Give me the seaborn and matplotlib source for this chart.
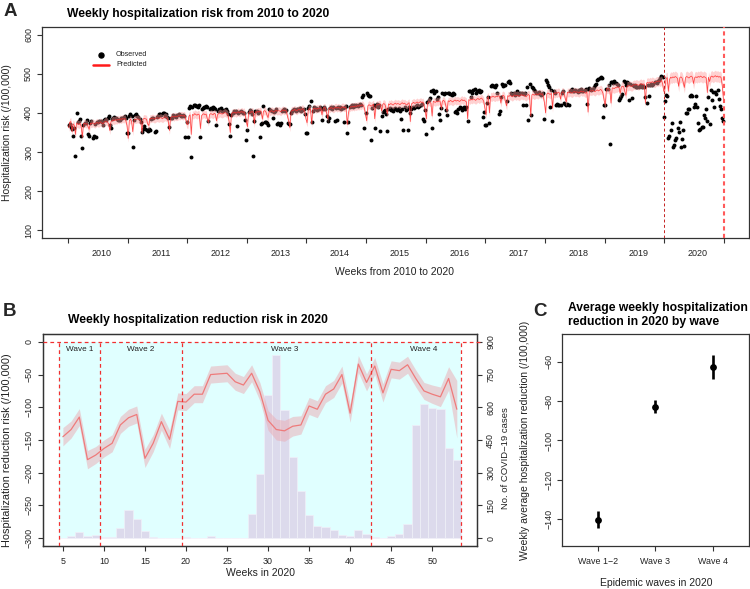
import numpy as np
import pandas as pd
import matplotlib
matplotlib.use("Agg")
import matplotlib.pyplot as plt
from matplotlib.lines import Line2D
from matplotlib.patches import Rectangle
import seaborn as sns

# ---------------- Panel A data (weekly, 52 weeks per year) ----------------
years = [2010, 2011, 2012, 2013, 2014, 2015, 2016, 2017, 2018, 2019, 2020]

obs_2010 = [369, 372, 365, 360, 342, 361, 290, 399, 378, 380,
            385, 342, 311, 370, 375, 373, 381, 345, 342, 375,
            380, 337, 340, 372, 338, 378, 376, 380, 379, 377,
            370, 382, 385, 383, 388, 391, 368, 362, 384, 387,
            390, 386, 384, 382, 383, 381, 386, 388, 390, 392, 388, 350]
pred_2010 = [362, 376, 378, 352, 372, 368, 345, 374, 372, 370,
             373, 366, 338, 372, 374, 371, 373, 365, 358, 374,
             372, 375, 373, 371, 374, 376, 373, 375, 377, 374,
             372, 376, 378, 379, 376, 372, 355, 378, 380, 382,
             380, 383, 381, 384, 382, 385, 383, 386, 384, 386, 380, 368]
obs_2011 = [350, 393, 396, 392, 313, 381, 395, 398, 393, 390,
            385, 378, 352, 360, 366, 358, 356, 353, 360, 357,
            384, 388, 386, 352, 355, 390, 392, 398, 397, 395,
            399, 400, 393, 396, 389, 386, 364, 386, 388, 395,
            393, 392, 390, 395, 397, 394, 391, 393, 395, 392, 338, 378]
pred_2011 = [335, 380, 384, 378, 352, 382, 384, 383, 385, 384,
             382, 380, 350, 384, 386, 385, 384, 372, 368, 386,
             385, 387, 386, 384, 386, 388, 387, 386, 388, 387,
             385, 388, 390, 389, 387, 378, 355, 388, 390, 391,
             389, 392, 390, 391, 393, 392, 394, 393, 392, 394, 388, 372]
obs_2012 = [338, 412, 418, 287, 416, 420, 419, 417, 418, 416,
            420, 339, 410, 412, 416, 414, 418, 415, 380, 410,
            413, 411, 415, 412, 409, 368, 405, 410, 408, 412,
            406, 404, 408, 410, 405, 398, 372, 340, 395, 399,
            405, 402, 404, 366, 400, 403, 406, 402, 399, 401, 382, 330]
pred_2012 = [370, 392, 395, 345, 396, 394, 398, 396, 394, 397,
             395, 360, 393, 396, 398, 395, 397, 385, 376, 396,
             398, 397, 395, 399, 397, 380, 396, 398, 400, 398,
             397, 399, 401, 400, 398, 395, 378, 350, 397, 401,
             400, 402, 399, 401, 403, 400, 402, 404, 401, 403, 396, 378]
obs_2013 = [357, 403, 408, 405, 398, 289, 380, 406, 404, 399,
            402, 338, 372, 375, 417, 378, 376, 373, 368, 410,
            408, 405, 386, 403, 406, 409, 372, 375, 370, 373,
            405, 407, 410, 406, 408, 374, 372, 371, 399, 404,
            408, 410, 406, 411, 409, 407, 412, 405, 408, 410, 396, 348]
pred_2013 = [365, 400, 403, 401, 404, 402, 372, 403, 401, 404,
             402, 405, 403, 384, 404, 406, 403, 395, 388, 405,
             403, 406, 404, 402, 405, 407, 404, 406, 405, 403,
             406, 408, 405, 407, 404, 390, 380, 362, 404, 407,
             406, 409, 407, 405, 408, 410, 407, 409, 411, 408, 402, 385]
obs_2014 = [349, 412, 418, 430, 378, 405, 414, 410, 413, 408,
            411, 415, 412, 383, 409, 414, 410, 391, 380, 387,
            412, 415, 411, 414, 380, 413, 382, 416, 412, 415,
            410, 413, 378, 415, 417, 350, 378, 416, 418, 420,
            415, 419, 417, 421, 418, 420, 423, 420, 440, 446, 362, 400]
pred_2014 = [375, 408, 411, 409, 372, 410, 412, 411, 409, 412,
             410, 413, 411, 395, 412, 414, 412, 400, 385, 413,
             411, 414, 412, 410, 413, 415, 412, 414, 413, 411,
             414, 416, 413, 415, 412, 370, 398, 413, 416, 415,
             417, 415, 418, 416, 419, 417, 420, 418, 421, 419, 412, 395]
obs_2015 = [451, 446, 443, 442, 330, 412, 420, 362, 418, 422,
            415, 420, 354, 391, 402, 405, 408, 398, 353, 410,
            412, 408, 411, 405, 409, 413, 408, 410, 412, 406,
            385, 410, 357, 414, 408, 411, 356, 416, 399, 410,
            414, 412, 416, 418, 420, 415, 418, 420, 422, 385, 380, 408]
pred_2015 = [380, 418, 421, 419, 417, 420, 422, 385, 419, 421,
             420, 423, 421, 405, 422, 424, 421, 410, 398, 423,
             421, 424, 422, 420, 423, 425, 422, 424, 423, 421,
             424, 426, 423, 425, 422, 420, 424, 426, 378, 423,
             425, 427, 424, 426, 428, 425, 427, 429, 426, 428, 420, 405]
obs_2016 = [345, 428, 432, 438, 455, 362, 458, 452, 455, 436,
            440, 396, 382, 413, 451, 448, 452, 408, 395, 450,
            452, 448, 446, 452, 448, 402, 405, 400, 410, 414,
            412, 408, 413, 416, 411, 415, 380, 455, 456, 440,
            452, 458, 460, 452, 456, 455, 458, 453, 455, 390, 403, 370]
pred_2016 = [385, 426, 429, 427, 425, 392, 430, 428, 427, 430,
             428, 431, 429, 412, 430, 432, 429, 418, 405, 431,
             429, 432, 430, 428, 431, 433, 430, 432, 431, 429,
             432, 434, 431, 433, 430, 428, 385, 434, 432, 435,
             433, 436, 434, 432, 435, 437, 434, 436, 438, 435, 430, 412]
obs_2017 = [370, 426, 440, 374, 468, 470, 468, 469, 466, 470,
            452, 396, 404, 440, 473, 468, 470, 472, 430, 478,
            481, 476, 450, 448, 452, 446, 450, 455, 448, 447,
            452, 450, 419, 448, 451, 420, 465, 382, 473, 395,
            467, 463, 458, 455, 452, 450, 454, 449, 446, 448, 450, 385]
pred_2017 = [395, 438, 441, 400, 442, 440, 443, 441, 440, 443,
             441, 444, 442, 425, 443, 445, 442, 428, 418, 444,
             442, 445, 443, 441, 444, 446, 443, 445, 444, 442,
             445, 447, 444, 446, 443, 441, 445, 447, 444, 392,
             446, 448, 445, 447, 449, 446, 448, 450, 447, 449, 442, 425]
obs_2018 = [484, 478, 470, 465, 415, 458, 379, 455, 452, 421,
            423, 420, 421, 419, 452, 455, 425, 422, 420, 424,
            421, 455, 458, 460, 457, 455, 459, 456, 454, 458,
            456, 460, 457, 455, 458, 461, 424, 462, 464, 460,
            458, 462, 465, 470, 475, 484, 487, 490, 491, 488, 390, 421]
pred_2018 = [400, 448, 451, 449, 447, 450, 412, 451, 449, 452,
             450, 453, 451, 435, 452, 454, 451, 438, 428, 453,
             451, 454, 452, 450, 453, 455, 452, 454, 453, 451,
             454, 456, 453, 455, 452, 450, 454, 402, 455, 457,
             455, 458, 456, 454, 457, 459, 456, 458, 460, 457, 450, 432]
obs_2019 = [421, 460, 462, 470, 321, 480, 478, 477, 481, 476,
            474, 472, 434, 438, 443, 449, 481, 480, 470, 478,
            476, 434, 475, 438, 472, 468, 470, 467, 466, 465,
            468, 470, 466, 468, 465, 440, 426, 470, 443, 472,
            474, 470, 475, 478, 480, 477, 482, 485, 489, 493, 492, 390]
pred_2019 = [420, 460, 463, 461, 459, 425, 464, 463, 462, 465,
             464, 467, 465, 450, 466, 468, 467, 455, 445, 469,
             468, 470, 469, 467, 470, 472, 471, 473, 472, 470,
             473, 475, 472, 474, 473, 425, 476, 478, 476, 479,
             477, 480, 478, 476, 479, 481, 480, 482, 479, 483, 475, 455]
obs_2020 = [430, 445, 442, 335, 340, 357, 374, 312, 317, 330,
            336, 361, 352, 378, 314, 334, 356, 316, 399, 401,
            411, 409, 442, 445, 443, 414, 424, 444, 414, 373,
            357, 358, 363, 363, 395, 388, 409, 380, 441, 371,
            458, 432, 454, 415, 453, 448, 459, 435, 418, 410, 386, 379]
pred_2020 = [462, 488, 490, 455, 485, 491, 489, 492, 490, 493,
             491, 488, 468, 490, 492, 489, 478, 465, 490, 493,
             491, 489, 492, 494, 491, 475, 490, 492, 490, 493,
             491, 494, 492, 490, 493, 491, 489, 452, 491, 480,
             492, 494, 491, 493, 495, 492, 494, 491, 493, 490, 470, 435]
band_halfwidth = [10, 10, 10, 10, 10, 10, 10, 11, 11, 12, 14]   # per year

observed = [obs_2010, obs_2011, obs_2012, obs_2013, obs_2014, obs_2015,
            obs_2016, obs_2017, obs_2018, obs_2019, obs_2020]
predicted = [pred_2010, pred_2011, pred_2012, pred_2013, pred_2014, pred_2015,
             pred_2016, pred_2017, pred_2018, pred_2019, pred_2020]

# ---------------- Panel B data (weeks 5..53 of 2020) ----------------
weeks_2020 = list(range(5, 54))
reduction = [-145, -134, -115, -180, -173, -163, -155, -127, -116, -111,
             -178, -155, -122, -149, -91, -92, -80, -80, -50, -49,
             -48, -61, -66, -48, -76, -120, -134, -136, -129, -127,
             -98, -103, -80, -72, -50, -109, -34, -62, -37, -78,
             -42, -44, -35, -56, -75, -80, -84, -56, -103]
reduction_hw = [14, 13, 13, 14, 13, 13, 13, 13, 13, 13,
                14, 13, 13, 14, 13, 13, 13, 13, 13, 13,
                13, 13, 13, 13, 14, 15, 16, 16, 15, 14,
                13, 13, 13, 13, 13, 14, 13, 13, 13, 14,
                13, 13, 13, 13, 13, 14, 15, 18, 44]
covid_cases = [2, 8, 28, 11, 15, 6, 6, 48, 129, 86,
               35, 3, 1, 0, 0, 3, 0, 0, 8, 2,
               0, 0, 0, 112, 296, 656, 839, 587, 371, 215,
               107, 54, 49, 38, 15, 8, 38, 17, 6, 2,
               8, 18, 66, 518, 615, 598, 593, 415, 357]
wave_names = ["Wave 1", "Wave 2", "Wave 3", "Wave 4"]
wave_bounds = [4.5, 9.5, 19.5, 42.5, 53.5]
wave_label_week = [7, 14.5, 32, 49]

# ---------------- Panel C data ----------------
c_labels = ["Wave 1\u22122", "Wave 3", "Wave 4"]
c_est = [-140.5, -83.0, -62.5]
c_lo = [-144.6, -86.2, -68.8]
c_hi = [-135.8, -79.5, -56.6]

for o, p in zip(observed, predicted):
    assert len(o) == 52 and len(p) == 52
assert len(reduction) == len(weeks_2020) == len(covid_cases) == len(reduction_hw)

# ---------------- Build tables ----------------
rows = []
for y, o, p, hw in zip(years, observed, predicted, band_halfwidth):
    for w in range(52):
        rows.append({"x": y + (w + 0.5) / 52, "obs": o[w], "pred": p[w],
                     "lo": p[w] - hw, "hi": p[w] + hw})
dfA = pd.DataFrame(rows)
dfB = pd.DataFrame({"week": weeks_2020, "red": reduction,
                    "lo": np.array(reduction) - np.array(reduction_hw),
                    "hi": np.array(reduction) + np.array(reduction_hw),
                    "cases": covid_cases})
dfC = pd.DataFrame({"pos": [1, 2, 3], "est": c_est, "lo": c_lo, "hi": c_hi})

# ---------------- Style ----------------
sns.set_style("ticks")
plt.rcParams["font.family"] = ["Liberation Sans", "DejaVu Sans"]
plt.rcParams["axes.unicode_minus"] = True

W, H = 750, 589
fig = plt.figure(figsize=(7.5, 5.89), dpi=100)


def ax_at(l, t, r, b):
    return fig.add_axes([l / W, 1 - b / H, (r - l) / W, (b - t) / H])


def ftext(x, y, s, **kw):
    fig.text(x / W, 1 - y / H, s, **kw)


SPINE = "#333333"
TXT = "#222222"


def style(ax, labelsize=6.4):
    for s in ax.spines.values():
        s.set_visible(True)
        s.set_color(SPINE)
        s.set_linewidth(0.9)
    ax.tick_params(direction="out", length=3.6, width=0.8, color=SPINE,
                   labelsize=labelsize, labelcolor=TXT, pad=3)
    ax.set_xlabel("")
    ax.set_ylabel("")


def rot_y(ax):
    for lab in ax.get_yticklabels():
        lab.set_rotation(90)
        lab.set_va("center")


# ---------------- Panel A ----------------
axA = ax_at(42.3, 26.7, 749, 238.3)
sns.scatterplot(data=dfA, x="x", y="obs", color="black", s=8, linewidth=0,
                ax=axA, zorder=2, legend=False)
axA.fill_between(dfA["x"], dfA["lo"], dfA["hi"], color="#ff9a9a", alpha=0.45,
                 linewidth=0, zorder=3)
sns.lineplot(data=dfA, x="x", y="pred", color="#ff2a2a", lw=0.55, alpha=0.85,
             estimator=None, ax=axA, zorder=4)
axA.axvline(2020, color="#c42020", lw=0.7, ls=(0, (3, 2.5)), zorder=5)
axA.axvline(2021, color="#ff5a5a", lw=1.5, ls=(0, (2, 1.6)), zorder=5)
axA.set_xlim(2009.57, 2021.42)
axA.set_ylim(80, 620)
style(axA)
axA.set_yticks([100, 200, 300, 400, 500, 600])
axA.set_xticks(np.arange(2010, 2022), minor=True)
axA.set_xticks(np.arange(2010, 2021) + 0.56)
axA.set_xticklabels([str(y) for y in years])
axA.tick_params(axis="x", which="major", length=0, pad=7.8, labelsize=6.5)
axA.tick_params(axis="x", which="minor", length=3.6, width=0.8, color=SPINE,
                direction="out")
rot_y(axA)

# legend (manual, no frame)
fig.add_artist(Line2D([101 / W], [1 - 55 / H], marker="o", color="black",
                      markersize=3.6, linestyle="none", transform=fig.transFigure))
fig.add_artist(Line2D([93 / W, 109 / W], [1 - 65 / H, 1 - 65 / H], color="#ff1a1a",
                      lw=1.8, transform=fig.transFigure))
ftext(116, 55, "Observed", fontsize=5.2, va="center", ha="left", color=TXT)
ftext(116, 65, "Predicted", fontsize=5.2, va="center", ha="left", color=TXT)

ftext(67, 14, "Weekly hospitalization risk from 2010 to 2020", fontsize=8.7,
      fontweight="bold", va="center", ha="left", color="black")
ftext(10.5, 12, "A", fontsize=13.5, fontweight="bold", va="center", ha="center")
ftext(395, 272, "Weeks from 2010 to 2020", fontsize=7.5, va="center",
      ha="center", color=TXT)
ftext(7.5, 132.5, "Hospitalization risk (/100,000)", fontsize=7.5, va="center",
      ha="center", rotation=90, color=TXT)

# ---------------- Panel B ----------------
axB2 = ax_at(42.7, 334, 477, 546)          # cases axis (drawn below)
axB = fig.add_axes(axB2.get_position(), sharex=axB2)  # reduction axis on top
axB.set_zorder(axB2.get_zorder() + 1)
axB.patch.set_visible(False)

# cyan wave region and case bars on the cases axis
axB2.add_patch(Rectangle((wave_bounds[0], 0), wave_bounds[-1] - wave_bounds[0], 900,
                         facecolor="#e0ffff", edgecolor="none", zorder=0))
sns.histplot(x=weeks_2020, weights=covid_cases, discrete=True,
             color="#dcdaec", alpha=1, edgecolor="#f0f0f8", linewidth=0.5,
             ax=axB2)
axB2.set_ylim(-36, 936)
axB2.yaxis.tick_right()
axB2.yaxis.set_label_position("right")

axB.fill_between(dfB["week"], dfB["lo"], dfB["hi"], color="#eaabb3", alpha=0.5,
                 linewidth=0, zorder=2)
sns.lineplot(data=dfB, x="week", y="red", color="#ee7b7b", lw=0.9,
             estimator=None, ax=axB, zorder=3)
for xb in wave_bounds:
    axB.plot([xb, xb], [-312, 0], color="#f03030", lw=0.9, ls=(0, (3, 2.5)),
             zorder=4)
axB.plot([2.54, 56.2], [0, 0], color="#f03030", lw=0.9, ls=(0, (3, 2.5)),
         zorder=4, clip_on=False)
for name, wx in zip(wave_names, wave_label_week):
    axB.text(wx, -11, name, fontsize=5.9, ha="center", va="center", color=TXT)
axB.set_xlim(2.54, 55.46)
axB.set_ylim(-312, 12)

style(axB2)
style(axB)
axB.set_xticks([5, 10, 15, 20, 25, 30, 35, 40, 45, 50])
axB.tick_params(axis="x", pad=4.6)
axB.set_yticks([0, -50, -100, -150, -200, -250, -300])
rot_y(axB)
axB2.set_yticks([0, 150, 300, 450, 600, 750, 900])
axB2.tick_params(axis="x", labelbottom=False, length=0)
axB2.tick_params(axis="y", left=False, labelleft=False, right=True, labelright=True)
for lab in axB2.get_yticklabels():
    lab.set_rotation(90)
    lab.set_va("center")
axB.tick_params(axis="y", right=False, labelright=False)

ftext(68, 320, "Weekly hospitalization reduction risk in 2020", fontsize=8.7,
      fontweight="bold", va="center", ha="left", color="black")
ftext(9, 311, "B", fontsize=13.5, fontweight="bold", va="center", ha="center")
ftext(260, 573, "Weeks in 2020", fontsize=7.5, va="center", ha="center", color=TXT)
ftext(7, 450, "Hospitalization reduction risk (/100,000)", fontsize=7.9,
      va="center", ha="center", rotation=90, color=TXT)
ftext(506, 458, "No. of COVID\u221219 cases", fontsize=6.8, va="center",
      ha="center", rotation=90, color=TXT)

# ---------------- Panel C ----------------
axC = ax_at(562.3, 334.3, 748.6, 545.7)
axC.vlines(dfC["pos"], dfC["lo"], dfC["hi"], color="black", lw=1.9, zorder=2)
sns.scatterplot(data=dfC, x="pos", y="est", color="black", s=24, linewidth=0,
                ax=axC, zorder=3, legend=False)
axC.set_xlim(0.38, 3.62)
axC.set_ylim(-153.5, -46)
style(axC)
axC.set_xticks([1, 2, 3])
axC.set_xticklabels(c_labels)
axC.tick_params(axis="x", pad=4.6)
axC.set_yticks([-60, -80, -100, -120, -140])
rot_y(axC)

ftext(568, 308, "Average weekly hospitalization", fontsize=8.7,
      fontweight="bold", va="center", ha="left", color="black")
ftext(568, 322, "reduction in 2020 by wave", fontsize=8.7,
      fontweight="bold", va="center", ha="left", color="black")
ftext(540, 312, "C", fontsize=13.5, fontweight="bold", va="center", ha="center")
ftext(656, 583, "Epidemic waves in 2020", fontsize=7.5, va="center",
      ha="center", color=TXT)
ftext(524.5, 440, "Weekly average hospitalization reduction (/100,000)",
      fontsize=7.5, va="center", ha="center", rotation=90, color=TXT)

fig.savefig("out.png", dpi=100)
